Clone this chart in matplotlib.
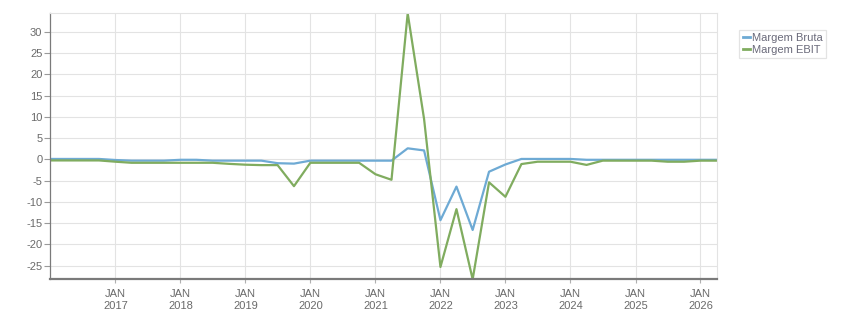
import matplotlib
matplotlib.use("Agg")
import matplotlib.pyplot as plt
import pandas as pd

# Quarterly dates
dates = pd.date_range("2016-01-01", periods=42, freq="QS")

margem_bruta = [0.1, 0.1, 0.1, 0.1, -0.15, -0.3, -0.3, -0.3,
                -0.1, -0.1, -0.3, -0.3, -0.3, -0.3, -0.9, -1.0,
                -0.3, -0.3, -0.3, -0.3, -0.3, -0.3, 2.6, 2.1,
                -14.3, -6.4, -16.6, -2.9, -1.2, 0.1, 0.1, 0.1,
                0.1, -0.1, -0.1, -0.1, -0.1, -0.1, -0.1, -0.1,
                -0.1, -0.1]

margem_ebit = [-0.25, -0.25, -0.25, -0.25, -0.55, -0.8, -0.8, -0.8,
               -0.8, -0.8, -0.8, -1.05, -1.25, -1.35, -1.35, -6.3,
               -0.8, -0.8, -0.8, -0.8, -3.5, -4.8, 34.35, 9.5,
               -25.3, -11.7, -28.2, -5.4, -8.8, -1.1, -0.55, -0.55,
               -0.55, -1.3, -0.3, -0.3, -0.3, -0.3, -0.55, -0.55,
               -0.3, -0.3]

series_labels = ["Margem Bruta", "Margem EBIT"]
y_ticks = [-25, -20, -15, -10, -5, 0, 5, 10, 15, 20, 25, 30]
years = list(range(2017, 2027))

plt.rcParams['font.family'] = ['Liberation Sans', 'DejaVu Sans']
plt.rcParams['axes.unicode_minus'] = False

W, H = 851, 313
fig = plt.figure(figsize=(W / 100, H / 100), dpi=100)
left, right, top, bottom = 50.3, 716.5, 13.3, 279.3
ax = fig.add_axes([left / W, (H - bottom) / H, (right - left) / W, (bottom - top) / H])

blue = "#6eaad4"
green = "#80ac5f"
ax.plot(dates, margem_bruta, color=blue, lw=1.6, label=series_labels[0])
ax.plot(dates, margem_ebit, color=green, lw=1.6, label=series_labels[1])

ax.set_xlim(dates[0], dates[-1])
ax.set_ylim(min(margem_ebit), max(margem_ebit))

ax.set_yticks(y_ticks)
ax.set_yticklabels([str(v) for v in y_ticks])

xt = [pd.Timestamp(f"{y}-01-01") for y in years]
ax.set_xticks(xt)
ax.set_xticklabels([f"JAN\n{y}" for y in years], linespacing=1.28)

gridc = "#e3e3e3"
ax.grid(True, color=gridc, lw=0.8)
ax.set_axisbelow(True)
for s in ["top", "right"]:
    ax.spines[s].set_color(gridc)
    ax.spines[s].set_linewidth(0.8)
ax.spines["left"].set_color("#7a7a7a")
ax.spines["left"].set_linewidth(0.9)
ax.spines["bottom"].set_color("#7a7a7a")
ax.spines["bottom"].set_linewidth(1.6)

ax.tick_params(axis="y", length=4.5, width=0.8, color="#9a9a9a", pad=1.2,
               labelsize=8, labelcolor="#6a6a6a")
ax.tick_params(axis="x", length=3, width=0.8, color="#b0b0b0", pad=4.0,
               labelsize=8, labelcolor="#6a6a6a")

leg = ax.legend(loc="upper left", bbox_to_anchor=(739.3 / W, 1 - 30 / H),
                bbox_transform=fig.transFigure, fontsize=8, frameon=True,
                fancybox=False, handlelength=0.65, handletextpad=0.2,
                borderpad=0.3, labelspacing=0.12, borderaxespad=0)
leg.get_frame().set_edgecolor("#dddddd")
leg.get_frame().set_linewidth(0.9)
for t in leg.get_texts():
    t.set_color("#6a6a7a")
for l in leg.get_lines():
    l.set_linewidth(2.0)

fig.savefig("out.png", dpi=100)
